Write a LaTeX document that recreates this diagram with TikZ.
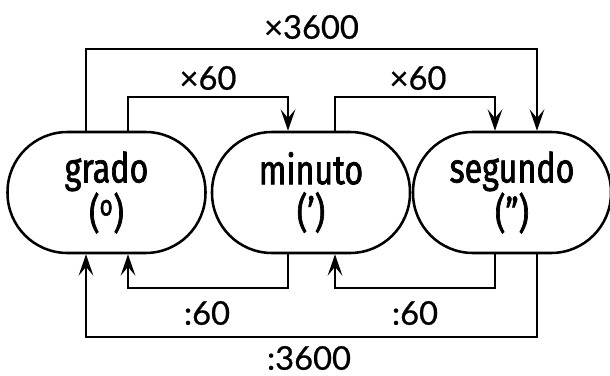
\documentclass[tikz,border=0pt]{standalone}
\usepackage{fontspec}
\setmainfont{Fira Sans}
\newfontfamily\namefont[FakeStretch=0.78,FakeBold=1.6]{Fira Sans}
\newfontfamily\numfont[FakeBold=0.6]{Lato}
\usetikzlibrary{arrows.meta}
\begin{document}
\begin{tikzpicture}[x=0.75pt,y=-0.75pt,
  unit/.style={draw, line width=1.9pt, rounded corners=45pt,
    minimum width=148.5pt, minimum height=90.75pt, align=center,
    font=\namefont\fontsize{31}{32}\selectfont},
  conv/.style={line width=1.9pt, -{Stealth[length=16pt,width=11pt,inset=6.5pt]}},
  rate/.style={font=\numfont\fontsize{24.5}{27}\selectfont, inner sep=0pt}]
\useasboundingbox (0,0) rectangle (610,375);

% the three units
\node[unit] (grado)   at (106.5,192.5) {grado\\(\textsuperscript{o})};
\node[unit] (minuto)  at (311,192.5)   {minuto\\(’)};
\node[unit] (segundo) at (512,192.5)   {segundo\\(”)};

% columns and rows of the connectors
\coordinate (a1) at (86,0);
\coordinate (a2) at (128,0);
\coordinate (b1) at (288,0);
\coordinate (b2) at (335,0);
\coordinate (c1) at (495,0);
\coordinate (c2) at (537,0);
\coordinate (top1) at (0,49);
\coordinate (top2) at (0,97);
\coordinate (bot2) at (0,288);
\coordinate (bot1) at (0,337);

% multiplications
\draw[conv] (grado.north -| a1) -- (a1 |- top1) -- (c2 |- top1) -- (segundo.north -| c2);
\draw[conv] (grado.north -| a2) -- (a2 |- top2) -- (b1 |- top2) -- (minuto.north -| b1);
\draw[conv] (minuto.north -| b2) -- (b2 |- top2) -- (c1 |- top2) -- (segundo.north -| c1);

% divisions
\draw[conv] (minuto.south -| b1) -- (b1 |- bot2) -- (a2 |- bot2) -- (grado.south -| a2);
\draw[conv] (segundo.south -| c1) -- (c1 |- bot2) -- (b2 |- bot2) -- (minuto.south -| b2);
\draw[conv] (segundo.south -| c2) -- (c2 |- bot1) -- (a1 |- bot1) -- (grado.south -| a1);

% factors
\node[rate] (m3600) at (311.5,27) {×3600};
\node[rate] (m60a)  at (208,78)   {×60};
\node[rate] (m60b)  at (418,78)   {×60};
\node[rate] (d60a)  at (207,313)  {:60};
\node[rate] (d60b)  at (415,313)  {:60};
\node[rate] (d3600) at (309,358)  {:3600};
\end{tikzpicture}
\end{document}
